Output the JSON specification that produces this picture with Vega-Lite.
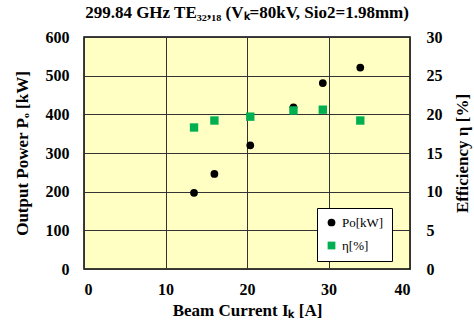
{
  "$schema": "https://vega.github.io/schema/vega-lite/v6.json",
  "width": 326,
  "height": 232,
  "autosize": {"type": "none"},
  "padding": {"left": 84, "top": 37, "right": 64, "bottom": 51},
  "background": "white",
  "title": {
    "text": "299.84 GHz TE₃₂,₁₈ (Vₖ=80kV, Sio2=1.98mm)",
    "font": "Liberation Serif", "fontSize": 17, "fontWeight": "bold", "color": "black",
    "offset": 7
  },
  "data": {
    "values": [
      {"I": 13.5, "Po": 197, "eta": 18.3},
      {"I": 16.0, "Po": 246, "eta": 19.2},
      {"I": 20.4, "Po": 320, "eta": 19.7},
      {"I": 25.7, "Po": 418, "eta": 20.5},
      {"I": 29.3, "Po": 481, "eta": 20.6},
      {"I": 33.9, "Po": 521, "eta": 19.2}
    ]
  },
  "encoding": {
    "x": {
      "field": "I", "type": "quantitative",
      "scale": {"domain": [0, 40], "nice": false},
      "axis": {"values": [0, 10, 20, 30, 40], "title": "Beam Current Iₖ [A]", "labelPadding": 12, "titlePadding": 5, "grid": true}
    }
  },
  "layer": [
    {
      "mark": {"type": "point", "filled": true, "size": 60, "opacity": 1},
      "encoding": {
        "y": {
          "field": "Po", "type": "quantitative",
          "scale": {"domain": [0, 600], "nice": false},
          "axis": {"values": [0, 100, 200, 300, 400, 500, 600], "title": "Output Power Pₒ [kW]", "labelPadding": 15, "titlePadding": 14, "grid": true}
        },
        "color": {"datum": "Po[kW]", "scale": {"domain": ["Po[kW]", "η[%]"], "range": ["black", "#00B050"]}, "legend": {"title": null, "labelFont": "Liberation Serif"}},
        "shape": {"datum": "Po[kW]", "scale": {"domain": ["Po[kW]", "η[%]"], "range": ["circle", "square"]}, "legend": {"title": null, "labelFont": "Liberation Serif"}}
      }
    },
    {
      "mark": {"type": "point", "filled": true, "size": 70, "opacity": 1},
      "encoding": {
        "y": {
          "field": "eta", "type": "quantitative",
          "scale": {"domain": [0, 30], "nice": false},
          "axis": {"orient": "right", "values": [0, 5, 10, 15, 20, 25, 30], "title": "Efficiency η [%]", "titleAngle": 270, "titleBaseline": "top", "labelPadding": 16, "titlePadding": 12, "grid": false}
        },
        "color": {"datum": "η[%]"},
        "shape": {"datum": "η[%]"}
      }
    }
  ],
  "resolve": {"scale": {"y": "independent"}},
  "config": {
    "font": "Liberation Serif",
    "view": {"fill": "#FFFFC4", "stroke": "black", "strokeWidth": 1.5},
    "axis": {
      "labelFont": "Liberation Serif", "titleFont": "Liberation Serif",
      "labelFontWeight": "bold", "titleFontWeight": "bold",
      "labelFontSize": 16, "titleFontSize": 17, "labelColor": "black", "titleColor": "black",
      "ticks": false, "domain": false, "gridColor": "#333333", "gridWidth": 1, "gridOpacity": 1
    },
    "legend": {
      "orient": "none", "legendX": 233, "legendY": 171,
      "fillColor": "white", "strokeColor": "black", "padding": 8,
      "labelFont": "Liberation Serif", "labelFontSize": 13, "labelColor": "black",
      "symbolSize": 60, "rowPadding": 8, "symbolOpacity": 1
    }
  }
}
